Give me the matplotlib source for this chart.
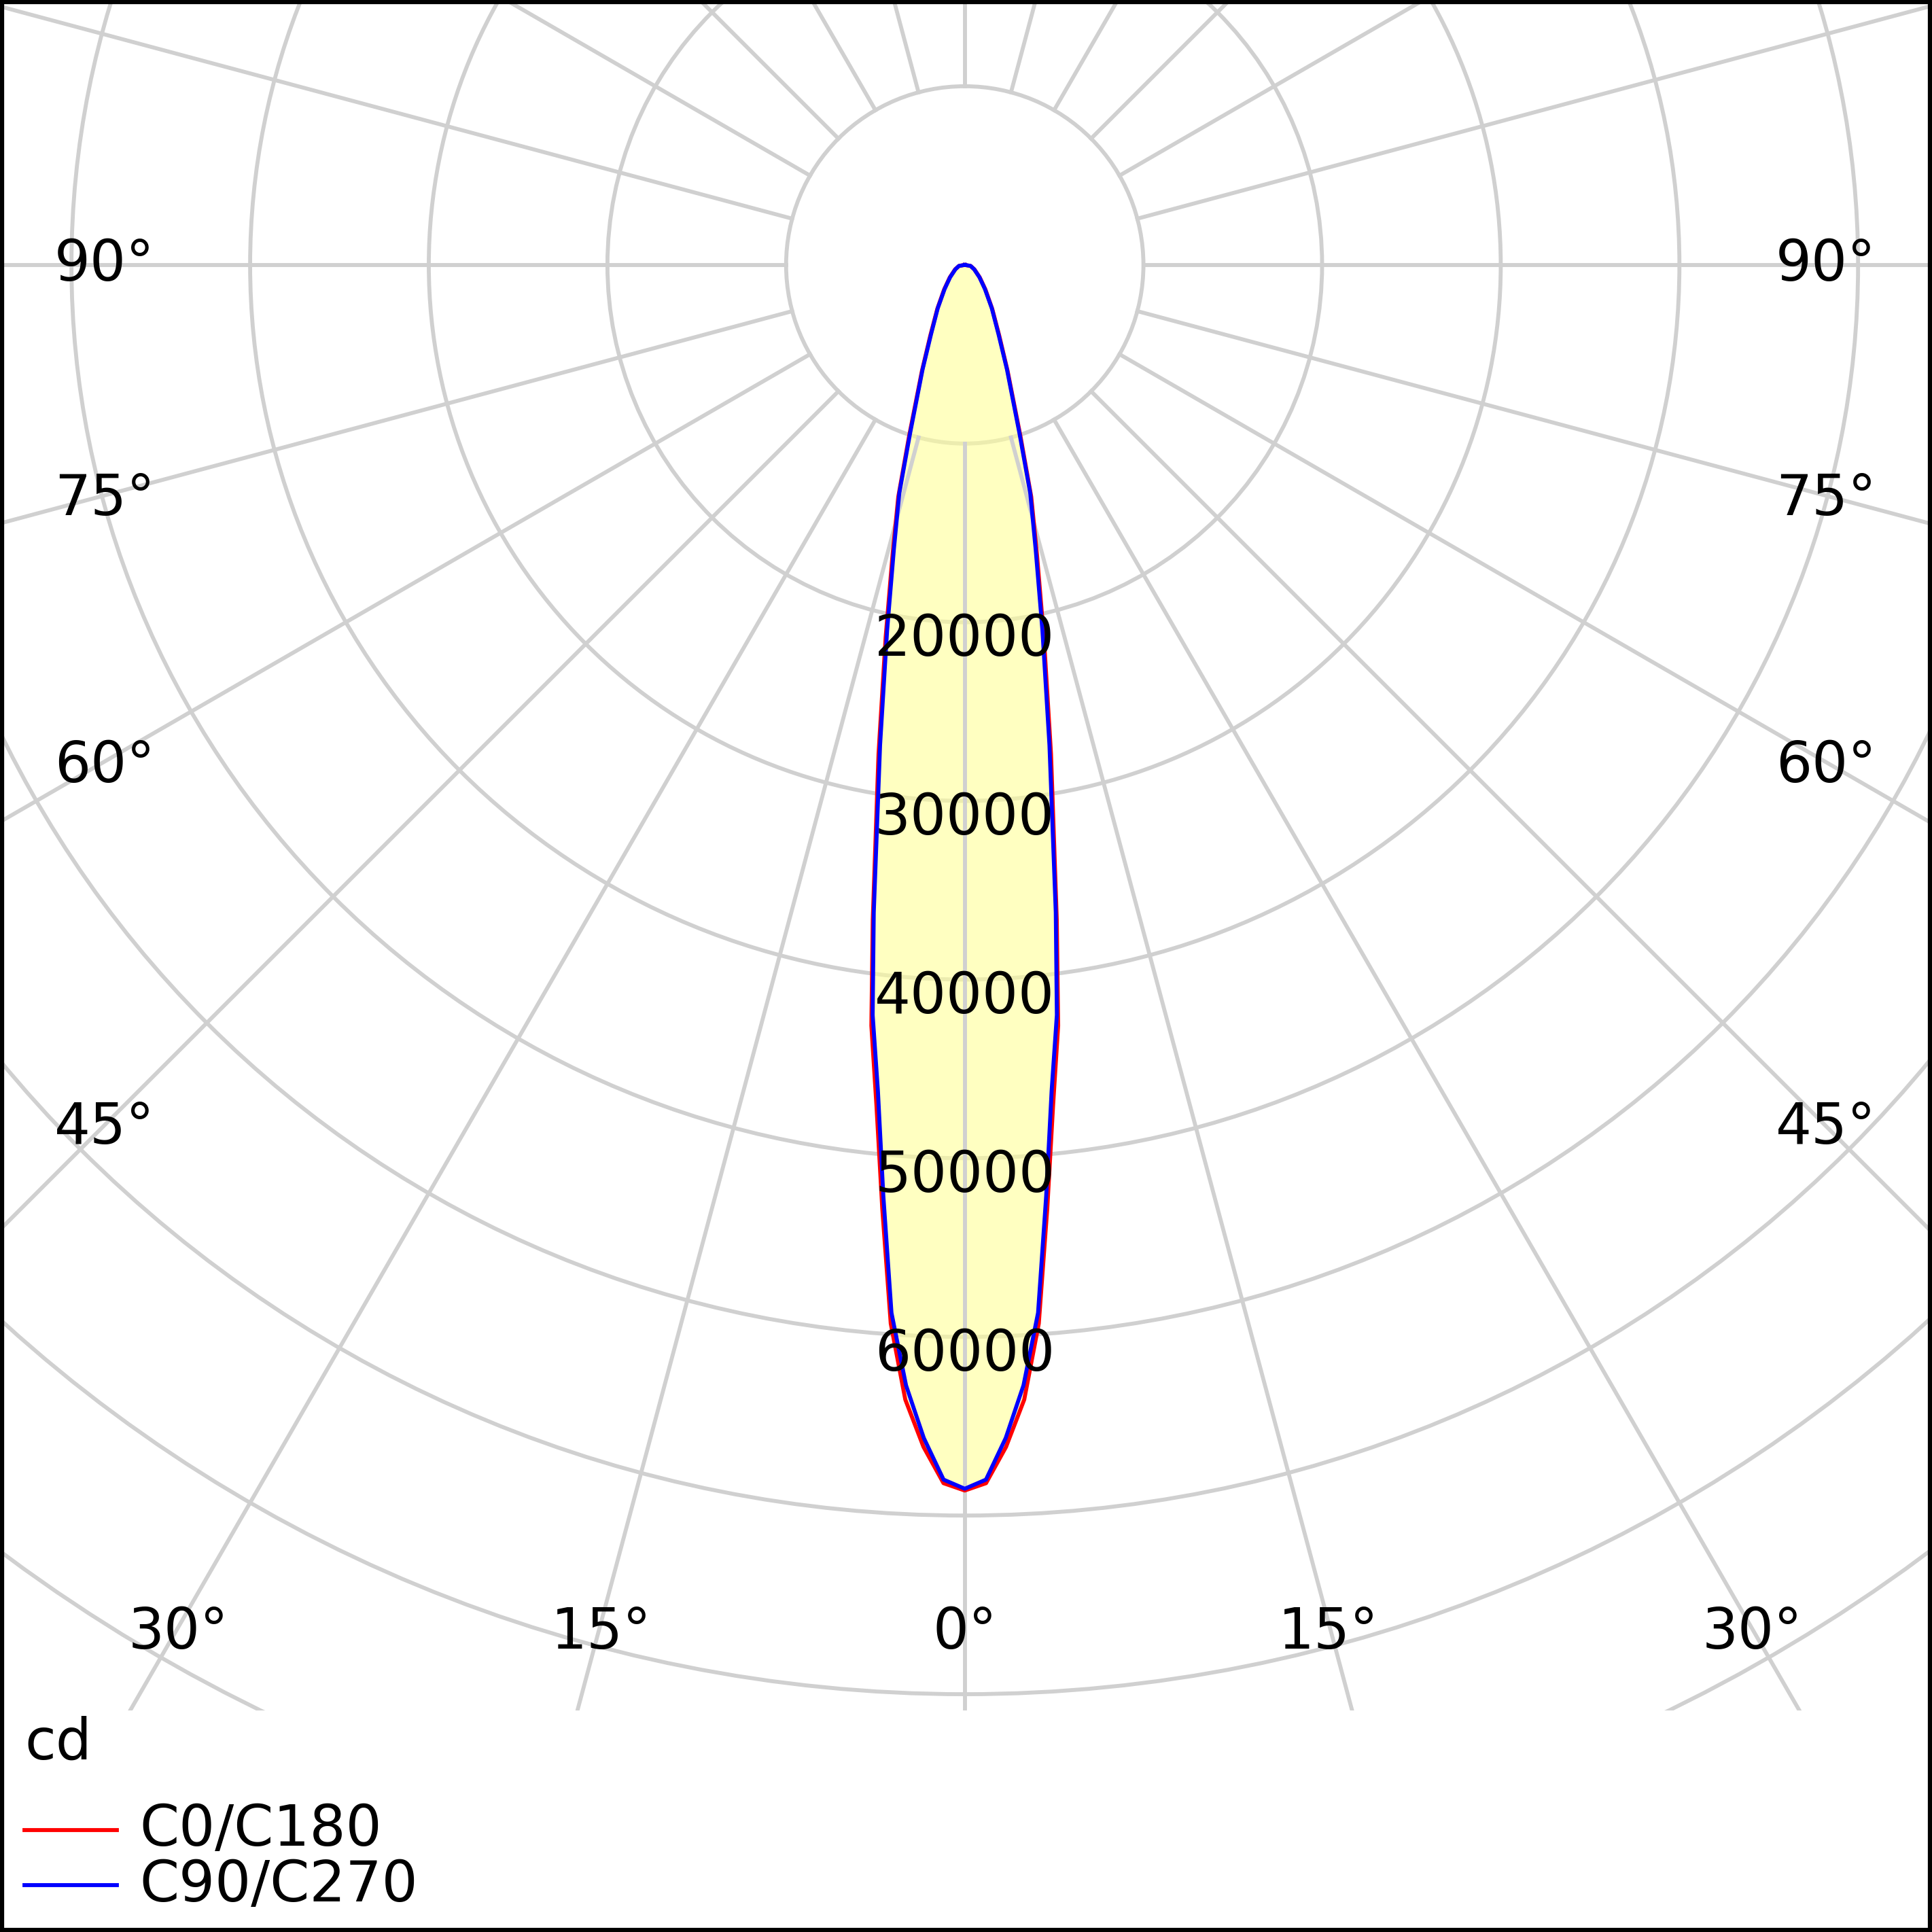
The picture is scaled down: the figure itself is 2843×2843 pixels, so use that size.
import numpy as np
import matplotlib.pyplot as plt
from matplotlib.patches import Circle, Rectangle

# intensity (cd) vs angle from nadir (deg)
angles = [0, 1, 2, 3, 4, 5, 6, 7, 8, 10, 12, 14, 16, 18, 22, 26, 32, 40, 50, 65, 80, 90]
c0_c180 = [68600, 68200, 66200, 63600, 59400, 53000, 47300, 42900, 37000, 27800, 21300, 16700, 13500, 10100, 6400, 4400, 2900, 1800, 1100, 600, 330, 0]
c90_c270 = [68500, 68000, 65700, 62800, 58800, 52300, 46500, 42300, 36600, 27300, 20900, 16400, 13300, 9900, 6300, 4300, 2850, 1750, 1070, 580, 330, 0]
ring_values = [10000, 20000, 30000, 40000, 50000, 60000, 70000, 80000, 90000, 100000]
ring_labels = [20000, 30000, 40000, 50000, 60000]
side_labels = [90, 75, 60, 45]
bottom_labels = [30, 15, 0, 15, 30]

W = 1568.0          # reference size in screen units
k = 145.0 / 10000   # screen units per cd
cx, cy = 783.0, 215.0
plot_bottom = 1388.0

fig = plt.figure(figsize=(2843 / 300, 2843 / 300), dpi=300)
ax = fig.add_axes([0, (W - plot_bottom) / W, 1, plot_bottom / W])
ax.set_xlim(-cx / k, (W - cx) / k)
ax.set_ylim(-(plot_bottom - cy) / k, cy / k)
ax.set_axis_off()

grid_c = '#d0d0d0'
lw = 1.4
for v in ring_values:
    ax.add_patch(Circle((0, 0), v, fill=False, ec=grid_c, lw=lw))
for a in range(0, 360, 15):
    t = np.radians(a)
    ax.plot([10000 * np.sin(t), 200000 * np.sin(t)],
            [-10000 * np.cos(t), -200000 * np.cos(t)], color=grid_c, lw=lw)


def outline(vals):
    a = np.radians(np.array(angles))
    v = np.array(vals)
    th = np.concatenate([-a[::-1], a[1:]])
    r = np.concatenate([v[::-1], v[1:]])
    return r * np.sin(th), -r * np.cos(th)


x0, y0 = outline(c0_c180)
x1, y1 = outline(c90_c270)
ax.fill(x0, y0, color='#ffff99', alpha=0.6, lw=0)
ax.plot(x0, y0, color='#ff0000', lw=1.4)
ax.plot(x1, y1, color='#0000ff', lw=1.4)

fs = 20
for v in ring_labels:
    ax.text(0, -v - 0.1 * 10000, str(v), ha='center', va='center', fontsize=fs)

# angle labels (screen positions)
side_y = [215, 405, 622, 915]
for lab, yy in zip(side_labels, side_y):
    fig.text(85 / W, 1 - yy / W, f'{lab}°', ha='center', va='center', fontsize=fs)
    fig.text(1482 / W, 1 - yy / W, f'{lab}°', ha='center', va='center', fontsize=fs)
for lab, xx in zip(bottom_labels, [145, 488, 783, 1078, 1422]):
    fig.text(xx / W, 1 - 1325 / W, f'{lab}°', ha='center', va='center', fontsize=fs)

# legend
fig.text(20 / W, 1 - 1415 / W, 'cd', ha='left', va='center', fontsize=fs)
fig.lines.append(plt.Line2D([20 / W, 95 / W], [1 - 1485 / W] * 2, color='#ff0000', lw=1.4, transform=fig.transFigure))
fig.lines.append(plt.Line2D([20 / W, 95 / W], [1 - 1530 / W] * 2, color='#0000ff', lw=1.4, transform=fig.transFigure))
fig.text(113 / W, 1 - 1485 / W, 'C0/C180', ha='left', va='center', fontsize=fs)
fig.text(113 / W, 1 - 1530 / W, 'C90/C270', ha='left', va='center', fontsize=fs)

fig.patches.append(Rectangle((0.001, 0.001), 0.998, 0.998, fill=False, ec='black', lw=1.5,
                             transform=fig.transFigure))
fig.savefig('out.png', dpi=300)
